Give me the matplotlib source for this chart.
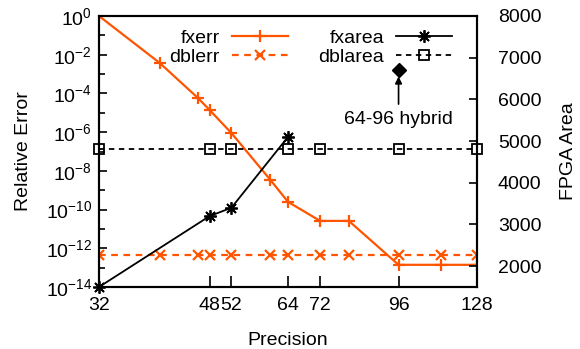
import matplotlib
matplotlib.use("Agg")
import matplotlib.pyplot as plt
from matplotlib.ticker import FixedLocator, NullFormatter, LogFormatterSciNotation, NullLocator

plt.rcParams['font.family'] = ['Liberation Sans', 'DejaVu Sans']
plt.rcParams['mathtext.fontset'] = 'custom'
plt.rcParams['mathtext.rm'] = 'Liberation Sans'
plt.rcParams['mathtext.it'] = 'Liberation Sans'
plt.rcParams['font.size'] = 14

# Data
err_prec = [32, 40, 46, 48, 52, 60, 64, 72, 80, 96, 112, 128]
fxerr = [1.0, 3.7e-3, 5.8e-5, 1.4e-5, 9e-7, 3.4e-9, 2.5e-10, 2.6e-11, 2.6e-11, 1.4e-13, 1.4e-13, 1.4e-13]
dblerr = [4.5e-13] * 12
fxarea_prec = [32, 48, 52, 64]
fxarea = [1500, 3200, 3400, 5100]
dblarea_prec = [32, 48, 52, 64, 72, 96, 128]
dblarea = [4800] * 7
hybrid_prec = [96]
hybrid_area = [6700]
xticks = [32, 48, 52, 64, 72, 96, 128]
xticklabels = ['32', '48', '52', '64', '72', '96', '128']

orange = '#ff5500'

fig = plt.figure(figsize=(5.8, 3.49), dpi=100)
ax = fig.add_axes([99/580, 1-287/349, 378/580, 271/349])
ax2 = ax.twinx()

ax.set_xscale('log', base=2)
ax.set_yscale('log')
ax.set_xlim(32, 128)
ax.set_ylim(1e-14, 1)
ax2.set_ylim(1500, 8000)

l1, = ax.plot(err_prec, fxerr, color=orange, lw=1.6, marker='+', ms=9, mew=1.6, label='fxerr')
l2, = ax.plot(err_prec, dblerr, color=orange, lw=1.6, ls=(0, (3, 2.5)), marker='x', ms=7, mew=1.6, label='dblerr')
l3, = ax2.plot(fxarea_prec, fxarea, color='black', lw=1.3, marker=(8, 2, 0), ms=9, mew=1.3, label='fxarea', clip_on=False)
l4, = ax2.plot(dblarea_prec, dblarea, color='black', lw=1.3, ls=(0, (3, 2.5)), marker='s', ms=7, mfc='none', mew=1.3, label='dblarea', clip_on=False)
ax2.plot(hybrid_prec, hybrid_area, color='black', marker='D', ms=7, ls='none')
ax2.annotate('64-96 hybrid', xy=(hybrid_prec[0], hybrid_area[0] - 150), xytext=(hybrid_prec[0], hybrid_area[0] - 980),
             ha='center', va='top', fontsize=14,
             arrowprops=dict(arrowstyle='-|>', color='black', lw=1.2, shrinkA=3, shrinkB=0, mutation_scale=10))

ax.xaxis.set_major_locator(FixedLocator(xticks))
ax.xaxis.set_minor_locator(NullLocator())
ax.set_xticklabels(xticklabels)
ax.set_yticks([10.0**e for e in range(-14, 1, 2)])
ax.yaxis.set_minor_locator(FixedLocator([10.0**e for e in range(-13, 0, 2)]))
ax.yaxis.set_minor_formatter(NullFormatter())
ax.yaxis.set_major_formatter(LogFormatterSciNotation())
ax2.set_yticks([2000, 3000, 4000, 5000, 6000, 7000, 8000])

ax.tick_params(axis='both', which='major', direction='in', length=6, width=1.2, labelsize=14)
ax.tick_params(axis='y', which='minor', direction='in', length=4, width=1.2)
ax.tick_params(axis='x', which='major', length=8, pad=7)
ax.tick_params(axis='y', which='major', pad=5)
ax2.tick_params(axis='y', direction='in', length=6, width=1.2, labelsize=14, pad=15)

for a in (ax, ax2):
    for s in a.spines.values():
        s.set_linewidth(1.5)

ax.set_xlabel('Precision', fontsize=14, labelpad=13)
ax.set_ylabel('Relative Error', fontsize=14, labelpad=10)
ax2.set_ylabel('FPGA Area', fontsize=14, labelpad=13)

leg = ax2.legend([l1, l2, l3, l4], ['fxerr', 'dblerr', 'fxarea', 'dblarea'], ncol=2, markerfirst=False,
                 loc='upper right', bbox_to_anchor=((452-99)/378, (287-29)/271), frameon=False,
                 borderpad=0, borderaxespad=0, handlelength=2.9, handletextpad=0.6,
                 columnspacing=1.55, labelspacing=0.1, fontsize=14)

fig.savefig('out.png', dpi=100)
